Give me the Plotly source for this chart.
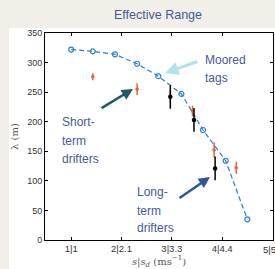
import plotly.graph_objects as go

# Data
moored_x = [1.0, 1.43, 1.87, 2.31, 2.73, 3.19, 3.62, 4.07, 4.50]
moored_y = [322, 319, 314, 298, 277, 247, 186, 134, 35]

short_x = [1.43, 2.31, 2.97, 3.41, 3.84, 4.28]
short_y = [276, 255, 242, 218, 152, 122]
short_err = [6, 10, 11, 9, 13, 10]

long_x = [2.97, 3.44, 3.86]
long_y = [242, 203, 121]
long_err = [20, 20, 20]

xtick_vals = [1, 2, 3, 4, 5]
xtick_text = ["1|1", "2|2.1", "3|3.3", "4|4.4", "5|5"]
ytick_vals = [0, 50, 100, 150, 200, 250, 300, 350]

TXT = "#3f5a9c"
W, H = 275, 269
ML, MR, MT, MB = 45, 2, 33, 29
TICKFONT = dict(family="Liberation Sans, Arial", size=9.5, color="#333")

fig = go.Figure()
fig.add_trace(go.Scatter(
    x=moored_x, y=moored_y, mode="lines+markers",
    line=dict(color="#2a80cc", width=1.2, dash="5px,3px"),
    marker=dict(symbol="circle-open", size=5, color="#2a80cc", line=dict(width=1.2)),
    showlegend=False, hoverinfo="skip"))
fig.add_trace(go.Scatter(
    x=short_x, y=short_y, mode="markers",
    marker=dict(size=3.5, color="#e8622a"),
    error_y=dict(type="data", array=short_err, color="#e8622a", thickness=1.5, width=0),
    showlegend=False))
fig.add_trace(go.Scatter(
    x=long_x, y=long_y, mode="markers",
    marker=dict(size=4.5, color="black"),
    error_y=dict(type="data", array=long_err, color="black", thickness=1.5, width=0),
    showlegend=False))

pw, ph = W - ML - MR, H - MT - MB
def px(xp):
    return (xp - ML) / pw
def py(yp):
    return (H - MB - yp) / ph

anns = []
def label(text, x, y):
    anns.append(dict(text=text, xref="paper", yref="paper", x=px(x), y=py(y),
                     xanchor="left", yanchor="middle", showarrow=False,
                     font=dict(family="Liberation Sans, Arial", size=12, color=TXT)))

label("Moored", 203, 60)
label("tags", 203, 78)
label("Short-", 60, 122)
label("term", 60, 141)
label("drifters", 60, 159)
label("Long-", 135, 192)
label("term", 135, 211)
label("drifters", 135, 228)

def arrow(hx, hy, tx, ty, color, width):
    anns.append(dict(text="", xref="paper", yref="paper", x=px(hx), y=py(hy),
                     ax=tx - hx, ay=ty - hy, axref="pixel", ayref="pixel",
                     showarrow=True, arrowhead=2, arrowsize=0.9, arrowwidth=width,
                     arrowcolor=color))

arrow(165, 73, 199, 61, "#b2e2f2", 3)
arrow(133, 89, 100, 109, "#1c5a6a", 2.5)
arrow(210, 177, 178, 199, "#2f5596", 2.5)

anns.append(dict(text="Effective Range", xref="paper", yref="paper",
                 x=px(158), y=py(15), xanchor="center", yanchor="middle", showarrow=False,
                 font=dict(family="Liberation Sans, Arial", size=12.5, color=TXT)))

# last tick label sits at the right edge of the canvas
anns.append(dict(text=xtick_text[-1], xref="x", yref="paper", x=xtick_vals[-1], y=0,
                 xanchor="center", yanchor="top", yshift=-2, xshift=-3, showarrow=False,
                 font=TICKFONT))

fig.update_layout(
    width=W, height=H,
    margin=dict(l=ML, r=MR, t=MT, b=MB),
    paper_bgcolor="#f2efe9", plot_bgcolor="white",
    annotations=anns,
    shapes=[dict(type="rect", xref="paper", yref="paper",
                 x0=px(9), x1=px(W + 5), y0=py(28), y1=py(H + 5),
                 fillcolor="white", line=dict(width=0), layer="below")],
    xaxis=dict(range=[0.48, 5.01], tickvals=xtick_vals, ticktext=xtick_text,
               ticks="inside", ticklen=3, tickcolor="black", mirror="ticks",
               showline=True, linecolor="black", linewidth=1, showgrid=False, zeroline=False,
               tickfont=TICKFONT,
               title=dict(text="<i>s</i>|<i>s<sub>d</sub></i> (ms<sup>−1</sup>)", standoff=2,
                          font=dict(family="DejaVu Serif", size=10, color="#555"))),
    yaxis=dict(range=[0, 350], tickvals=ytick_vals,
               ticks="inside", ticklen=3, tickcolor="black", mirror="ticks",
               showline=True, linecolor="black", linewidth=1, showgrid=False, zeroline=False,
               tickfont=dict(family="Liberation Sans, Arial", size=9, color="#333"),
               title=dict(text="λ (m)", standoff=6,
                          font=dict(family="DejaVu Serif", size=10, color="#555"))),
)

fig.write_html(
    "out.html", config={"displayModeBar": False},
    post_script=("document.documentElement.style.overflow='hidden';"
                 "document.body.style.margin='0';document.body.style.overflow='hidden';"))
